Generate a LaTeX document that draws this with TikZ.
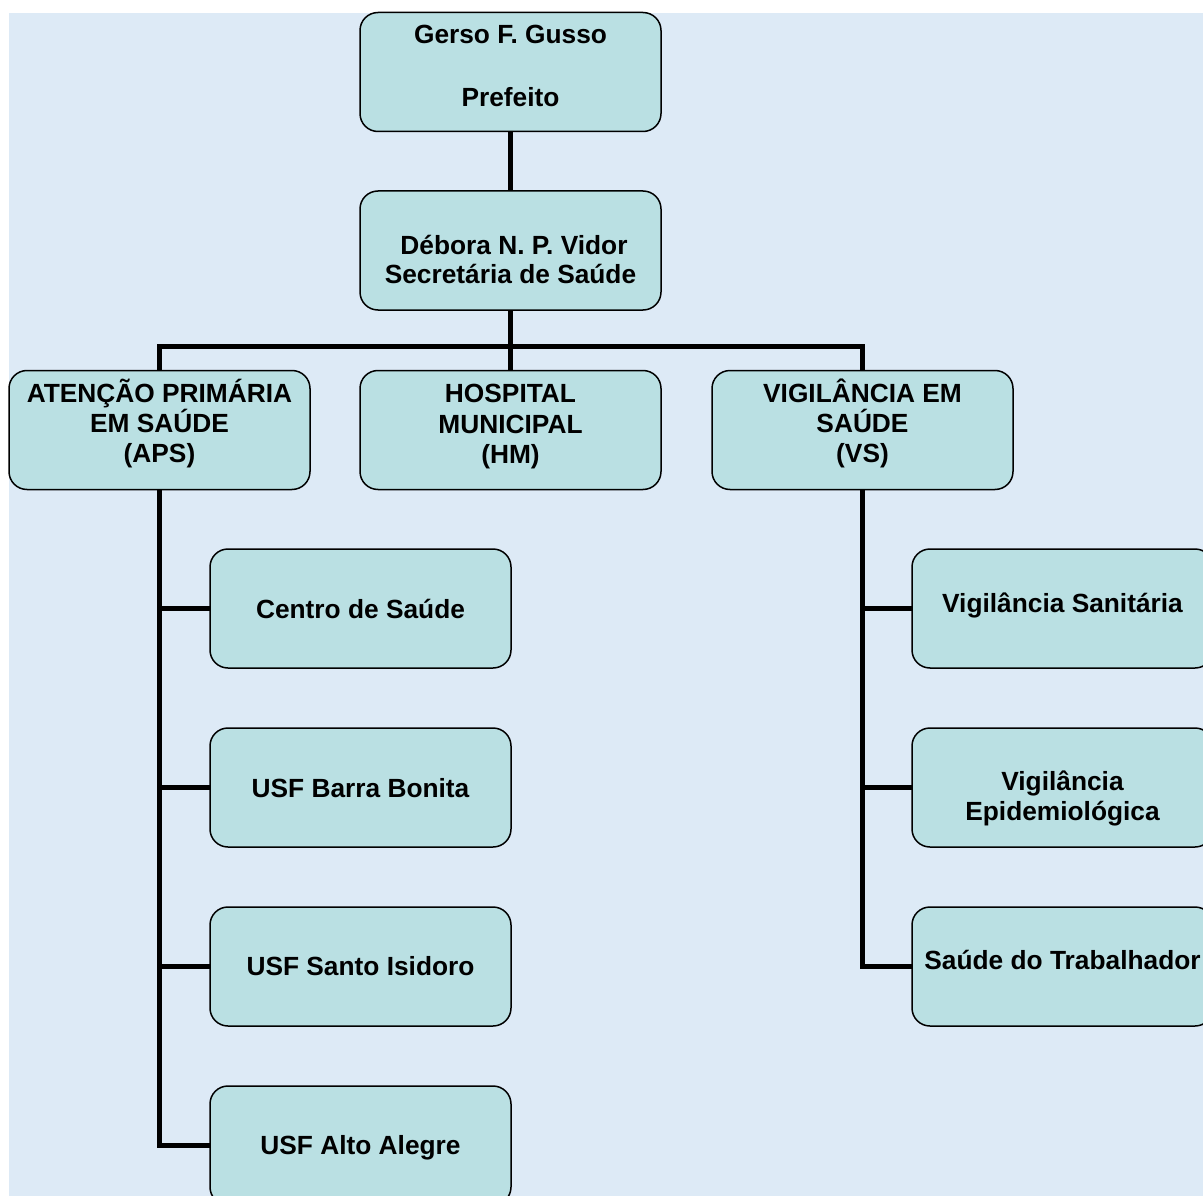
\documentclass[tikz,border=0pt]{standalone}
\usepackage{fontspec}
\setmainfont{Liberation Sans}
\definecolor{bgc}{RGB}{221,234,246}
\definecolor{boxc}{RGB}{186,224,227}
\begin{document}
\begin{tikzpicture}[x=1pt,y=-1pt,
  orgbox/.style={draw=black, line width=1.5pt, fill=boxc, rounded corners=18pt,
    minimum width=301pt, minimum height=119pt, inner sep=0pt, outer sep=0pt},
  txt/.style={anchor=base, inner sep=0pt, font=\fontsize{26.3}{31}\selectfont\bfseries},
  conn/.style={line width=5pt, line join=miter}]
\useasboundingbox (0,0) rectangle (1203,1196);
\fill[bgc] (9,13) rectangle (1210,1200);
% boxes
\node[orgbox] (gerso)  at (510.5,72) {};
\node[orgbox] (debora) at (510.5,250.5) {};
\node[orgbox] (aps)    at (159.5,430) {};
\node[orgbox] (hm)     at (510.5,430) {};
\node[orgbox] (vs)     at (862.5,430) {};
\node[orgbox] (cs)     at (360.5,608.5) {};
\node[orgbox] (barra)  at (360.5,787.5) {};
\node[orgbox] (santo)  at (360.5,966.5) {};
\node[orgbox] (alto)   at (360.5,1145.5) {};
\node[orgbox] (vsan)   at (1062.5,608.5) {};
\node[orgbox] (vepi)   at (1062.5,787.5) {};
\node[orgbox] (strab)  at (1062.5,966.5) {};
% connectors
\coordinate (bar) at (510.5,346);
\draw[conn] (gerso.south) -- (debora.north);
\draw[conn] (debora.south) -- (hm.north);
\draw[conn] (aps.north) |- (bar) -| (vs.north);
\draw[conn] (aps.south) |- (alto.west);
\draw[conn] (aps.south |- cs.west) -- (cs.west);
\draw[conn] (aps.south |- barra.west) -- (barra.west);
\draw[conn] (aps.south |- santo.west) -- (santo.west);
\draw[conn] (vs.south) |- (strab.west);
\draw[conn] (vs.south |- vsan.west) -- (vsan.west);
\draw[conn] (vs.south |- vepi.west) -- (vepi.west);
% texts
\node[txt] (g1) at (510.5,43.3) {Gerso F. Gusso};
\node[txt] (g2) at (510.5,106.7) {Prefeito};
\node[txt] (d1) at (514,254) {Débora N. P. Vidor};
\node[txt] (d2) at (510.5,283) {Secretária de Saúde};
\node[txt] (a1) at (159.5,402) {ATENÇÃO PRIMÁRIA};
\node[txt] (a2) at (159.5,432) {EM SAÚDE};
\node[txt] (a3) at (159.5,462) {(APS)};
\node[txt] (h1) at (510.5,402.5) {HOSPITAL};
\node[txt] (h2) at (510.5,433) {MUNICIPAL};
\node[txt] (h3) at (510.5,463) {(HM)};
\node[txt] (v1) at (862.5,402) {VIGILÂNCIA EM};
\node[txt] (v2) at (862.5,432) {SAÚDE};
\node[txt] (v3) at (862.5,462) {(VS)};
\node[txt] (c1) at (360.5,618.3) {Centro de Saúde};
\node[txt] (c2) at (360.5,797) {USF Barra Bonita};
\node[txt] (c3) at (360.5,975.5) {USF Santo Isidoro};
\node[txt] (c4) at (360.5,1154) {USF Alto Alegre};
\node[txt] (s1) at (1062.5,612.7) {Vigilância Sanitária};
\node[txt] (s2) at (1062.5,790) {Vigilância};
\node[txt] (s3) at (1062.5,820) {Epidemiológica};
\node[txt] (s4) at (1062.5,969) {Saúde do Trabalhador};
\end{tikzpicture}
\end{document}
